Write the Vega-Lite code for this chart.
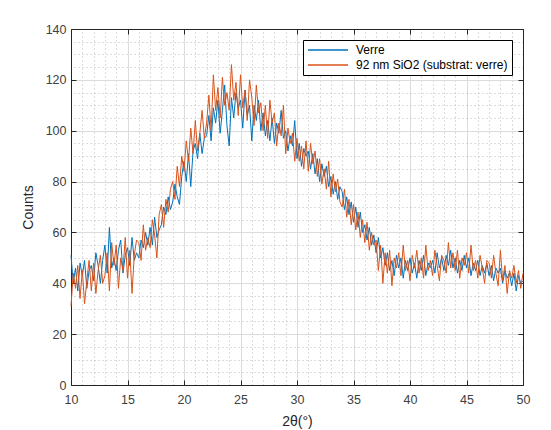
{
  "$schema": "https://vega.github.io/schema/vega-lite/v6.json",
  "width": 452,
  "height": 356,
  "autosize": {"type": "none"},
  "padding": {"left": 71, "top": 29, "right": 28, "bottom": 45},
  "background": "white",
  "config": {
    "view": {"stroke": null},
    "font": "Liberation Sans",
    "axis": {"labelFont": "Liberation Sans", "titleFont": "Liberation Sans", "labelFontSize": 12.5, "labelColor": "#404040", "titleColor": "#262626", "titleFontWeight": "normal", "titleFontSize": 14, "domainColor": "#262626", "tickColor": "#262626", "labelFlush": false}
  },
  "data": {"values": [
{"t":10.0,"V":51,"S":31},{"t":10.2,"V":40,"S":44},{"t":10.4,"V":46,"S":38},{"t":10.6,"V":37,"S":47},{"t":10.8,"V":48,"S":34},
{"t":11.0,"V":43,"S":45},{"t":11.2,"V":49,"S":32},{"t":11.4,"V":38,"S":41},{"t":11.6,"V":45,"S":49},{"t":11.8,"V":47,"S":37},
{"t":12.0,"V":41,"S":48},{"t":12.2,"V":52,"S":36},{"t":12.4,"V":47,"S":45},{"t":12.6,"V":40,"S":51},{"t":12.8,"V":49,"S":40},
{"t":13.0,"V":55,"S":43},{"t":13.2,"V":44,"S":52},{"t":13.4,"V":62,"S":37},{"t":13.6,"V":46,"S":56},{"t":13.8,"V":50,"S":47},
{"t":14.0,"V":45,"S":55},{"t":14.2,"V":53,"S":38},{"t":14.4,"V":57,"S":50},{"t":14.6,"V":44,"S":45},{"t":14.8,"V":51,"S":58},
{"t":15.0,"V":54,"S":42},{"t":15.2,"V":47,"S":53},{"t":15.4,"V":58,"S":36},{"t":15.6,"V":49,"S":51},{"t":15.8,"V":52,"S":57},
{"t":16.0,"V":50,"S":56},{"t":16.2,"V":57,"S":49},{"t":16.4,"V":54,"S":63},{"t":16.6,"V":60,"S":53},{"t":16.8,"V":55,"S":58},
{"t":17.0,"V":62,"S":54},{"t":17.2,"V":55,"S":65},{"t":17.4,"V":66,"S":59},{"t":17.6,"V":58,"S":50},{"t":17.8,"V":61,"S":67},
{"t":18.0,"V":63,"S":71},{"t":18.2,"V":70,"S":62},{"t":18.4,"V":67,"S":73},{"t":18.6,"V":74,"S":68},{"t":18.8,"V":69,"S":77},
{"t":19.0,"V":72,"S":80},{"t":19.2,"V":79,"S":73},{"t":19.4,"V":74,"S":86},{"t":19.6,"V":71,"S":78},{"t":19.8,"V":82,"S":90},
{"t":20.0,"V":88,"S":84},{"t":20.2,"V":80,"S":96},{"t":20.4,"V":91,"S":88},{"t":20.6,"V":78,"S":101},{"t":20.8,"V":92,"S":91},
{"t":21.0,"V":95,"S":104},{"t":21.2,"V":89,"S":92},{"t":21.4,"V":99,"S":99},{"t":21.6,"V":91,"S":108},{"t":21.8,"V":97,"S":97},
{"t":22.0,"V":98,"S":103},{"t":22.2,"V":106,"S":114},{"t":22.4,"V":96,"S":100},{"t":22.6,"V":109,"S":122},{"t":22.8,"V":103,"S":108},
{"t":23.0,"V":112,"S":117},{"t":23.2,"V":99,"S":105},{"t":23.4,"V":108,"S":121},{"t":23.6,"V":118,"S":110},{"t":23.8,"V":102,"S":115},
{"t":24.0,"V":94,"S":108},{"t":24.2,"V":113,"S":126},{"t":24.4,"V":105,"S":112},{"t":24.6,"V":115,"S":119},{"t":24.8,"V":109,"S":106},
{"t":25.0,"V":112,"S":122},{"t":25.2,"V":101,"S":109},{"t":25.4,"V":116,"S":116},{"t":25.6,"V":106,"S":104},{"t":25.8,"V":110,"S":120},
{"t":26.0,"V":96,"S":113},{"t":26.2,"V":110,"S":102},{"t":26.4,"V":104,"S":118},{"t":26.6,"V":112,"S":107},{"t":26.8,"V":100,"S":111},
{"t":27.0,"V":107,"S":100},{"t":27.2,"V":98,"S":110},{"t":27.4,"V":104,"S":97},{"t":27.6,"V":96,"S":112},{"t":27.8,"V":105,"S":103},
{"t":28.0,"V":95,"S":107},{"t":28.2,"V":103,"S":94},{"t":28.4,"V":99,"S":103},{"t":28.6,"V":108,"S":98},{"t":28.8,"V":97,"S":110},
{"t":29.0,"V":100,"S":91},{"t":29.2,"V":92,"S":101},{"t":29.4,"V":98,"S":95},{"t":29.6,"V":94,"S":99},{"t":29.8,"V":104,"S":88},
{"t":30.0,"V":89,"S":97},{"t":30.2,"V":95,"S":88},{"t":30.4,"V":86,"S":94},{"t":30.6,"V":93,"S":85},{"t":30.8,"V":90,"S":96},
{"t":31.0,"V":92,"S":84},{"t":31.2,"V":85,"S":95},{"t":31.4,"V":91,"S":87},{"t":31.6,"V":83,"S":92},{"t":31.8,"V":89,"S":82},
{"t":32.0,"V":80,"S":89},{"t":32.2,"V":87,"S":79},{"t":32.4,"V":82,"S":85},{"t":32.6,"V":86,"S":77},{"t":32.8,"V":78,"S":88},
{"t":33.0,"V":82,"S":74},{"t":33.2,"V":75,"S":83},{"t":33.4,"V":80,"S":76},{"t":33.6,"V":73,"S":81},{"t":33.8,"V":78,"S":72},
{"t":34.0,"V":76,"S":70},{"t":34.2,"V":69,"S":77},{"t":34.4,"V":74,"S":66},{"t":34.6,"V":67,"S":73},{"t":34.8,"V":72,"S":63},
{"t":35.0,"V":64,"S":71},{"t":35.2,"V":70,"S":61},{"t":35.4,"V":62,"S":68},{"t":35.6,"V":68,"S":58},{"t":35.8,"V":60,"S":65},
{"t":36.0,"V":63,"S":56},{"t":36.2,"V":57,"S":64},{"t":36.4,"V":62,"S":53},{"t":36.6,"V":55,"S":60},{"t":36.8,"V":59,"S":55},
{"t":37.0,"V":52,"S":57},{"t":37.2,"V":58,"S":45},{"t":37.4,"V":50,"S":55},{"t":37.6,"V":54,"S":40},{"t":37.8,"V":47,"S":52},
{"t":38.0,"V":52,"S":44},{"t":38.2,"V":45,"S":53},{"t":38.4,"V":49,"S":39},{"t":38.6,"V":43,"S":50},{"t":38.8,"V":51,"S":46},
{"t":39.0,"V":46,"S":52},{"t":39.2,"V":50,"S":43},{"t":39.4,"V":42,"S":55},{"t":39.6,"V":49,"S":45},{"t":39.8,"V":45,"S":49},
{"t":40.0,"V":50,"S":41},{"t":40.2,"V":44,"S":51},{"t":40.4,"V":48,"S":46},{"t":40.6,"V":42,"S":53},{"t":40.8,"V":49,"S":44},
{"t":41.0,"V":45,"S":50},{"t":41.2,"V":51,"S":42},{"t":41.4,"V":43,"S":55},{"t":41.6,"V":48,"S":45},{"t":41.8,"V":46,"S":49},
{"t":42.0,"V":49,"S":43},{"t":42.2,"V":44,"S":53},{"t":42.4,"V":52,"S":47},{"t":42.6,"V":46,"S":41},{"t":42.8,"V":50,"S":51},
{"t":43.0,"V":45,"S":49},{"t":43.2,"V":51,"S":44},{"t":43.4,"V":47,"S":56},{"t":43.6,"V":53,"S":46},{"t":43.8,"V":46,"S":52},
{"t":44.0,"V":50,"S":45},{"t":44.2,"V":44,"S":53},{"t":44.4,"V":49,"S":42},{"t":44.6,"V":45,"S":50},{"t":44.8,"V":51,"S":47},
{"t":45.0,"V":46,"S":52},{"t":45.2,"V":50,"S":44},{"t":45.4,"V":43,"S":55},{"t":45.6,"V":48,"S":45},{"t":45.8,"V":45,"S":49},
{"t":46.0,"V":49,"S":42},{"t":46.2,"V":43,"S":51},{"t":46.4,"V":47,"S":46},{"t":46.6,"V":44,"S":40},{"t":46.8,"V":48,"S":49},
{"t":47.0,"V":43,"S":48},{"t":47.2,"V":47,"S":42},{"t":47.4,"V":41,"S":51},{"t":47.6,"V":46,"S":44},{"t":47.8,"V":44,"S":39},
{"t":48.0,"V":46,"S":53},{"t":48.2,"V":40,"S":41},{"t":48.4,"V":45,"S":47},{"t":48.6,"V":42,"S":36},{"t":48.8,"V":44,"S":45},
{"t":49.0,"V":39,"S":42},{"t":49.2,"V":44,"S":47},{"t":49.4,"V":37,"S":40},{"t":49.6,"V":43,"S":45},{"t":49.8,"V":40,"S":38},
{"t":50.0,"V":41,"S":44}
  ]},
  "transform": [{"fold": ["V", "S"], "as": ["k", "c"]}],
  "resolve": {"axis": {"x": "independent", "y": "independent"}},
  "layer": [
    {
      "mark": {"type": "line", "opacity": 0},
      "encoding": {
        "x": {"field": "t", "type": "quantitative", "scale": {"domain": [10, 50], "nice": false},
          "axis": {"orient": "top", "values": [11,12,13,14,16,17,18,19,21,22,23,24,26,27,28,29,31,32,33,34,36,37,38,39,41,42,43,44,46,47,48,49], "labels": false, "ticks": false, "domain": true, "grid": true, "gridDash": [1, 3], "gridColor": "#b8b8b8", "gridOpacity": 1, "title": null}},
        "y": {"field": "c", "type": "quantitative", "scale": {"domain": [0, 140], "nice": false},
          "axis": {"orient": "right", "values": [5,10,15,25,30,35,45,50,55,65,70,75,85,90,95,105,110,115,125,130,135], "labels": false, "ticks": false, "domain": true, "grid": true, "gridDash": [1, 3], "gridColor": "#b8b8b8", "gridOpacity": 1, "title": null}}
      }
    },
    {
      "mark": {"type": "line", "opacity": 0},
      "encoding": {
        "x": {"field": "t", "type": "quantitative", "axis": {"orient": "top", "values": [10,15,20,25,30,35,40,45,50], "labels": false, "ticks": true, "tickSize": -5, "domain": false, "grid": false, "title": null}},
        "y": {"field": "c", "type": "quantitative", "axis": {"orient": "right", "values": [0,20,40,60,80,100,120,140], "labels": false, "ticks": true, "tickSize": -5, "domain": false, "grid": false, "title": null}}
      }
    },
    {
      "transform": [{"filter": "datum.k == 'V'"}],
      "mark": {"type": "line", "strokeWidth": 1},
      "encoding": {
        "x": {"field": "t", "type": "quantitative", "axis": {"orient": "bottom", "values": [10,15,20,25,30,35,40,45,50], "tickSize": -5, "labelPadding": 13, "domain": true, "grid": true, "gridColor": "#dcdcdc", "gridOpacity": 1, "title": "2θ(°)", "titlePadding": 9}},
        "y": {"field": "c", "type": "quantitative", "axis": {"orient": "left", "values": [0,20,40,60,80,100,120,140], "tickSize": -5, "labelPadding": 10, "domain": true, "grid": true, "gridColor": "#dcdcdc", "gridOpacity": 1, "title": "Counts", "titlePadding": 10}},
        "color": {"field": "k", "type": "nominal", "scale": {"domain": ["V", "S"], "range": ["#0072BD", "#D95319"]},
          "legend": {"orient": "top-right", "offset": 11, "title": null, "labelExpr": "datum.value == 'V' ? 'Verre' : '92 nm SiO2 (substrat: verre)'", "symbolType": "M-4,0H4", "symbolSize": 100, "symbolOffset": 15, "symbolStrokeWidth": 1.5, "labelFont": "Liberation Sans", "labelFontSize": 12, "labelColor": "#000000", "strokeColor": "#000000", "fillColor": "white", "padding": 4, "rowPadding": 3, "labelOffset": 22}}
      }
    },
    {
      "transform": [{"filter": "datum.k == 'S'"}],
      "mark": {"type": "line", "strokeWidth": 1},
      "encoding": {
        "x": {"field": "t", "type": "quantitative", "axis": null},
        "y": {"field": "c", "type": "quantitative", "axis": null},
        "color": {"field": "k", "type": "nominal"}
      }
    }
  ]
}
